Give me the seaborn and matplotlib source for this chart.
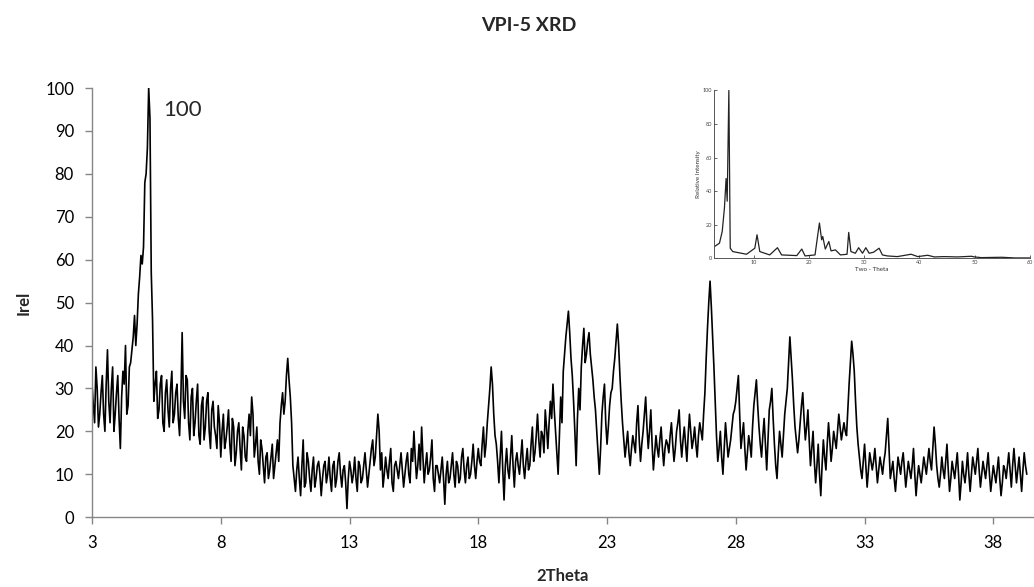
import numpy as np
import pandas as pd
import seaborn as sns
import matplotlib
matplotlib.use('Agg')
import matplotlib.pyplot as plt

# main pattern; whole steps of 0.1 deg from 3.0 to 39.3
scan_start, scan_step = 3.0, 0.1
irel = [
    31, 22, 30, 24, 33, 20, 39, 22, 35, 24,   # 3.0
    33, 16, 34, 40, 26, 36, 42, 40, 52, 61,   # 4.0
    63, 80, 100, 57, 27, 34, 25, 33, 20, 32,  # 5.0
    21, 34, 24, 31, 19, 43, 23, 32, 18, 30,   # 6.0
    22, 31, 17, 28, 21, 29, 16, 27, 19, 26,   # 7.0
    14, 24, 18, 25, 13, 21, 15, 22, 11, 19,   # 8.0
    13, 24, 28, 14, 21, 10, 16, 8, 15, 11,    # 9.0
    17, 12, 18, 22, 29, 27, 37, 28, 12, 6,    # 10.0
    14, 5, 18, 8, 13, 6, 14, 9, 13, 5,        # 11.0
    12, 8, 14, 6, 13, 9, 15, 7, 12, 2,        # 12.0
    13, 8, 14, 6, 12, 9, 15, 7, 13, 18,       # 13.0
    14, 24, 11, 7, 14, 9, 16, 6, 13, 9,       # 14.0
    15, 7, 13, 10, 16, 20, 9, 17, 21, 8,      # 15.0
    15, 11, 18, 6, 12, 8, 14, 3, 13, 9,       # 16.0
    15, 7, 12, 9, 16, 8, 14, 10, 17, 9,       # 17.0
    16, 12, 21, 17, 26, 35, 24, 17, 8, 20,    # 18.0
    4, 16, 9, 19, 7, 15, 10, 18, 9, 16,       # 19.0
    12, 21, 15, 24, 14, 19, 25, 16, 27, 31,   # 20.0
    20, 10, 28, 34, 42, 48, 37, 27, 12, 30,   # 21.0
    35, 44, 38, 43, 35, 28, 20, 10, 24, 31,   # 22.0
    17, 26, 30, 37, 45, 33, 22, 14, 20, 12,   # 23.0
    19, 15, 26, 13, 20, 28, 16, 25, 11, 19,   # 24.0
    14, 21, 12, 18, 15, 22, 13, 20, 25, 14,   # 25.0
    21, 13, 24, 16, 21, 14, 22, 18, 29, 44,   # 26.0
    55, 42, 27, 13, 20, 10, 22, 14, 18, 24,   # 27.0
    27, 33, 16, 22, 11, 19, 14, 26, 32, 21,   # 28.0
    14, 23, 11, 25, 30, 17, 9, 20, 14, 24,    # 29.0
    30, 42, 32, 21, 15, 22, 29, 18, 25, 12,   # 30.0
    20, 8, 17, 5, 18, 11, 22, 13, 20, 16,     # 31.0
    24, 18, 22, 19, 31, 41, 34, 21, 14, 9,    # 32.0
    17, 7, 15, 11, 16, 8, 14, 10, 15, 23,     # 33.0
    9, 13, 6, 14, 10, 15, 7, 13, 9, 16,       # 34.0
    5, 12, 8, 14, 10, 16, 11, 21, 12, 7,      # 35.0
    14, 9, 17, 6, 13, 9, 15, 4, 13, 8,        # 36.0
    15, 6, 14, 10, 16, 7, 13, 9, 15, 6,       # 37.0
    12, 8, 14, 5, 12, 9, 15, 7, 16, 8,        # 38.0
    14, 6, 15, 10,                            # 39.0
]
# the half steps in between (3.05 ... 39.25)
irel_mid = [
    26, 35, 21, 29, 24, 31, 27, 30, 20, 29,   # 3.05
    23, 28, 31, 24, 35, 39, 47, 45, 56, 59,   # 4.05
    78, 86, 93, 46, 31, 23, 31, 22, 29, 25,   # 5.05
    30, 22, 29, 23, 28, 27, 33, 22, 28, 19,   # 6.05
    27, 19, 26, 18, 27, 20, 25, 21, 16, 22,   # 7.05
    20, 16, 21, 17, 23, 12, 20, 16, 21, 14,   # 8.05
    20, 19, 24, 17, 13, 18, 12, 14, 9, 14,    # 9.05
    9, 15, 13, 26, 24, 33, 32, 22, 9, 11,     # 10.05
    9, 12, 7, 15, 9, 11, 7, 12, 10, 9,        # 11.05
    13, 10, 9, 12, 7, 13, 10, 11, 8, 9,       # 12.05
    11, 10, 9, 13, 8, 12, 11, 10, 16, 12,     # 13.05
    19, 20, 15, 10, 11, 13, 8, 12, 11, 12,    # 14.05
    11, 10, 15, 8, 13, 14, 12, 11, 14, 12,    # 15.05
    10, 14, 9, 12, 10, 11, 9, 10, 8, 12,      # 16.05
    10, 13, 8, 14, 11, 12, 9, 13, 12, 13,     # 17.05
    13, 17, 14, 22, 30, 31, 19, 13, 14, 11,   # 18.05
    12, 11, 14, 12, 13, 12, 14, 12, 13, 11,   # 19.05
    17, 13, 19, 18, 20, 15, 21, 22, 23, 25,   # 20.05
    15, 19, 22, 38, 45, 43, 33, 20, 23, 25,   # 21.05
    40, 36, 41, 38, 32, 25, 15, 16, 28, 22,   # 22.05
    21, 29, 34, 41, 40, 27, 18, 17, 15, 16,   # 23.05
    17, 22, 18, 17, 24, 21, 20, 17, 15, 16,   # 24.05
    18, 16, 16, 17, 19, 17, 16, 22, 18, 18,   # 25.05
    17, 19, 20, 18, 17, 19, 20, 24, 37, 50,   # 26.05
    49, 35, 19, 16, 14, 16, 18, 16, 21, 25,   # 27.05
    30, 24, 19, 16, 15, 17, 21, 29, 26, 17,   # 28.05
    19, 17, 18, 27, 23, 12, 15, 17, 19, 27,   # 29.05
    36, 37, 26, 18, 18, 26, 23, 21, 18, 16,   # 30.05
    13, 12, 10, 12, 14, 17, 18, 16, 18, 20,   # 31.05
    21, 20, 20, 25, 36, 38, 27, 17, 11, 13,   # 32.05
    12, 11, 13, 13, 12, 11, 12, 13, 19, 16,   # 33.05
    11, 9, 10, 12, 13, 11, 10, 11, 12, 10,    # 34.05
    9, 10, 11, 12, 13, 13, 16, 17, 9, 10,     # 35.05
    11, 13, 11, 9, 11, 12, 10, 8, 10, 11,     # 36.05
    10, 10, 12, 13, 11, 10, 11, 12, 10, 9,    # 37.05
    10, 11, 9, 8, 11, 12, 11, 12, 12, 11,     # 38.05
    10, 11, 12,                               # 39.05
]
two_theta = np.round(scan_start + scan_step * np.arange(len(irel)), 2)
two_theta_mid = np.round(scan_start + scan_step / 2 + scan_step * np.arange(len(irel_mid)), 2)

# small reference pattern shown in the corner
ref_theta = [2.9, 3.8, 4.3, 4.7, 5.0, 5.2, 5.5, 5.75, 6.2, 8.7, 10.2, 10.6, 11.1,
             12.9, 14.3, 15.05, 17.8, 18.7, 19.3, 21.1, 21.6, 21.9, 22.3, 22.5,
             22.96, 23.6, 24.0, 24.8, 25.7, 26.9, 27.2, 27.6, 28.4, 29.0, 29.7,
             30.3, 30.9, 31.7, 32.7, 33.3, 34.2, 36.0, 38.5, 39.7, 41.5, 42.7,
             44.5, 46.9, 49.4, 50.0, 51.2, 54.9, 57.3, 60.0]
ref_int = [7, 9, 16, 30, 47.5, 34, 100, 6, 4, 2.4, 6, 14, 4,
           2, 6.3, 2, 1.6, 5.5, 1.4, 2, 14, 21, 11, 13,
           5.5, 10, 4.4, 5, 2, 2.4, 15.4, 4, 3, 6.3, 3,
           6.3, 3, 3.6, 6, 2, 1.4, 1, 2.4, 1, 1.8, 0.8,
           1, 0.8, 1.2, 0.8, 0.4, 0.6, 0.2, 0.2]

main_df = pd.DataFrame({'2Theta': np.concatenate([two_theta, two_theta_mid]),
                        'Irel': irel + irel_mid}).sort_values('2Theta')
ref_df = pd.DataFrame({'theta': ref_theta, 'ri': ref_int})

sns.set_style('white')
plt.rcParams['font.family'] = ['Lato', 'DejaVu Sans']

grey = '#868686'
fig = plt.figure(figsize=(10.34, 5.87), dpi=100)
ax = fig.add_axes([0.089, 0.119, 0.911, 0.731])
sns.lineplot(data=main_df, x='2Theta', y='Irel', ax=ax, color='black',
             linewidth=1.2, estimator=None)
ax.set_xlim(3, 39.58)
ax.set_ylim(0, 100)
ax.set_xticks([3, 8, 13, 18, 23, 28, 33, 38])
ax.set_yticks(range(0, 101, 10))
for s in ['top', 'right']:
    ax.spines[s].set_visible(False)
for s in ['left', 'bottom']:
    ax.spines[s].set_color(grey)
    ax.spines[s].set_linewidth(1.0)
ax.tick_params(axis='both', direction='out', length=5, width=1, color=grey,
               labelsize=12, pad=8, labelcolor='black', bottom=True, left=True)
ax.set_xlabel('2Theta', fontsize=12, fontweight='bold', labelpad=12)
ax.set_ylabel('Irel', fontsize=12, fontweight='bold', labelpad=10)
ax.text(5.76, 95, '100', fontsize=16, va='center', ha='left')
fig.text(0.511, 0.957, 'VPI-5 XRD', fontsize=14, fontweight='bold',
         ha='center', va='center')

# inset
ins = fig.add_axes([0.691, 0.560, 0.305, 0.286])
sns.lineplot(data=ref_df, x='theta', y='ri', ax=ins, color='#222222',
             linewidth=0.9, estimator=None)
ins.set_xlim(2.9, 60)
ins.set_ylim(0, 100)
ins.set_xticks([10, 20, 30, 40, 50, 60])
ins.set_yticks([0, 20, 40, 60, 80, 100])
ins.tick_params(axis='both', direction='in', length=2, width=0.5,
                labelsize=4, pad=1.5, labelcolor='#444444', bottom=True, left=True)
for s in ['top', 'right']:
    ins.spines[s].set_visible(False)
for s in ['left', 'bottom']:
    ins.spines[s].set_color('#555555')
    ins.spines[s].set_linewidth(0.7)
ins.set_xlabel('Two - Theta', fontsize=4.5, labelpad=1.5, color='#333333')
ins.set_ylabel('Relative Intensity', fontsize=4.5, labelpad=1.5, color='#333333')
ins.patch.set_alpha(0)

fig.savefig('out.png', dpi=100)
